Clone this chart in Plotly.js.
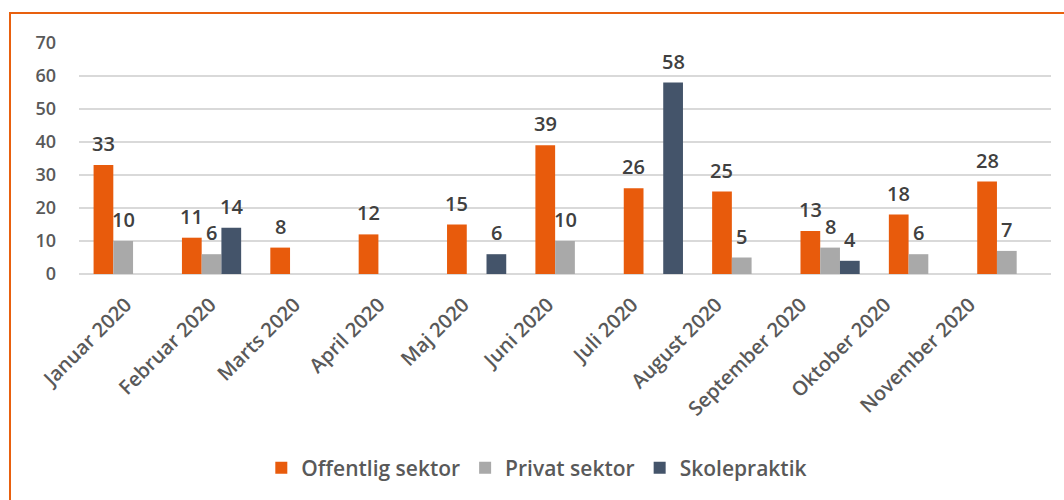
<!DOCTYPE html>
<html>
<head>
<meta charset="utf-8">
<script src="https://cdn.plot.ly/plotly-3.0.1.min.js"></script>
<style>
  html, body { margin: 0; padding: 0; background: #fff; }
  #wrap { position: relative; width: 1064px; height: 500px; }
  #chart { position: absolute; left: 0; top: 0; width: 1064px; height: 500px; }
  #frame { position: absolute; left: 9px; top: 12px; width: 1055px; height: 488px;
           border-left: 2px solid #E8600E; border-top: 2px solid #E8600E; pointer-events: none; }
</style>
</head>
<body>
<div id="wrap">
  <div id="chart"></div>
  <div id="frame"></div>
</div>
<script>
const categories = ["Januar 2020","Februar 2020","Marts 2020","April 2020","Maj 2020","Juni 2020","Juli 2020","August 2020","September 2020","Oktober 2020","November 2020"];
const offentlig = [33, 11, 8, 12, 15, 39, 26, 25, 13, 18, 28];
const privat = [10, 6, null, null, null, 10, null, 5, 8, 6, 7];
const skole = [null, 14, null, null, 6, null, 58, null, 4, null, null];

const seriesNames = ["Offentlig sektor", "Privat sektor", "Skolepraktik"];
const seriesValues = [offentlig, privat, skole];
const seriesColors = ["#E85B0C", "#A9A9A9", "#44546A"];

const FONT = "'Open Sans', Lato, sans-serif";
const labelFont = {family: FONT, size: 20, color: "#404040", weight: 600};

const data = seriesNames.map((name, i) => ({
  type: "bar", name: name, x: categories, y: seriesValues[i],
  marker: {color: seriesColors[i]},
  hoverinfo: "x+y+name"
}));
// empty helper trace so the category-label axis (x2) is drawn
data.push({
  type: "scatter", mode: "markers", x: categories.map((c, i) => i), y: categories.map(() => null),
  xaxis: "x2", yaxis: "y2", showlegend: false, hoverinfo: "skip"
});

const plotW = 1064 - 79 - 13;
const bargap = 0.33;
const barW = plotW / categories.length * (1 - bargap) / 3;

const annotations = [];
seriesValues.forEach((vals, i) => {
  vals.forEach((v, j) => {
    if (v == null) return;
    annotations.push({
      x: categories[j], y: v, xref: "x", yref: "y",
      text: String(v), showarrow: false,
      xanchor: "center", yanchor: "bottom",
      xshift: (i - 1) * barW, yshift: 6,
      font: labelFont
    });
  });
});

const layout = {
  width: 1064, height: 500,
  margin: {l: 79, r: 13, t: 43, b: 226},
  paper_bgcolor: "#ffffff", plot_bgcolor: "rgba(0,0,0,0)",
  barmode: "group", bargap: bargap, bargroupgap: 0,
  showlegend: true,
  legend: {orientation: "h", x: 0.471, xanchor: "center", y: -0.84, yanchor: "middle",
           font: {family: FONT, size: 21, color: "#595959", weight: 600},
           traceorder: "normal", itemwidth: 30},
  annotations: annotations,
  xaxis: {
    type: "category", domain: [0, 1], showgrid: false, zeroline: false,
    showline: false, ticks: "", showticklabels: false
  },
  // category labels, laid out slightly tighter than the bar groups as in the original
  xaxis2: {
    type: "linear", anchor: "y2", domain: [0.0048, 0.9595], range: [-0.5, categories.length - 0.5],
    tickmode: "array", tickvals: categories.map((c, i) => i), ticktext: categories,
    tickangle: -45, showgrid: false, zeroline: false, showline: false, ticks: "",
    ticklabelstandoff: 14, fixedrange: true,
    tickfont: {family: FONT, size: 20, color: "#595959", weight: 600}
  },
  yaxis2: {
    anchor: "x2", domain: [0, 1], range: [0, 70], showgrid: false, zeroline: false,
    showline: false, ticks: "", showticklabels: false, fixedrange: true
  },
  yaxis: {
    range: [0, 70], dtick: 10, showgrid: true, gridcolor: "#D9D9D9", gridwidth: 1.5,
    zeroline: true, zerolinecolor: "#D9D9D9", zerolinewidth: 1.5,
    ticks: "", ticklabelstandoff: 22,
    tickfont: {family: FONT, size: 18, color: "#595959", weight: 600}
  }
};

Plotly.newPlot("chart", data, layout, {displayModeBar: false, staticPlot: true});
</script>
</body>
</html>
